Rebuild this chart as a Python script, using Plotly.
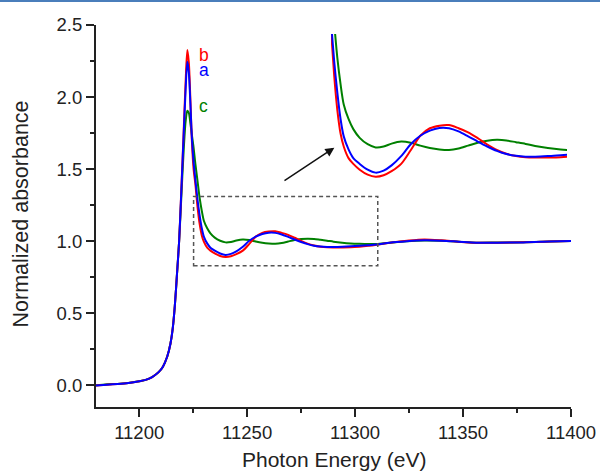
import plotly.graph_objects as go

# Photon energy grid (eV)
energy = [11180, 11185, 11190, 11195, 11200, 11203, 11206, 11209, 11211, 11213,
          11214.5, 11215.5, 11216.5, 11217.5, 11218.5, 11219.5, 11220.5, 11221.5,
          11222.3, 11223, 11223.7, 11224.4, 11225.2, 11226, 11227, 11228, 11229,
          11230, 11231.5, 11233, 11235, 11237.5, 11240, 11242.5, 11245, 11248,
          11251, 11254, 11257, 11260, 11263, 11266, 11269, 11272, 11275, 11278,
          11281, 11284, 11287, 11290, 11294, 11298, 11302, 11306, 11310, 11316,
          11324, 11332, 11340, 11348, 11356, 11366, 11378, 11390, 11400]

# Normalized absorbance of samples a, b and c
absorb_a = [0.0, 0.004, 0.009, 0.016, 0.028, 0.038, 0.058, 0.092, 0.13, 0.2,
            0.29, 0.39, 0.55, 0.77, 1.0, 1.34, 1.70, 2.05,
            2.245, 2.17, 1.96, 1.72, 1.55, 1.43, 1.29, 1.18, 1.09,
            1.03, 0.985, 0.955, 0.935, 0.915, 0.905, 0.912, 0.93, 0.962,
            1.003, 1.032, 1.05, 1.059, 1.058, 1.047, 1.03, 1.012, 0.995, 0.98,
            0.969, 0.963, 0.96, 0.96, 0.962, 0.965, 0.968, 0.972, 0.977, 0.99,
            1.0, 1.006, 1.004, 0.997, 0.99, 0.99, 0.992, 0.998, 1.002]

absorb_b = [0.0, 0.004, 0.009, 0.016, 0.028, 0.038, 0.058, 0.092, 0.13, 0.2,
            0.29, 0.39, 0.55, 0.77, 1.0, 1.35, 1.72, 2.1,
            2.326, 2.24, 1.99, 1.70, 1.50, 1.40, 1.24, 1.12, 1.04,
            0.995, 0.955, 0.935, 0.915, 0.898, 0.891, 0.896, 0.91, 0.935,
            0.982, 1.032, 1.058, 1.067, 1.069, 1.058, 1.044, 1.024, 1.002, 0.983,
            0.97, 0.962, 0.958, 0.957, 0.957, 0.958, 0.962, 0.968, 0.976, 0.99,
            1.003, 1.012, 1.006, 0.996, 0.989, 0.99, 0.993, 0.998, 1.002]

absorb_c = [0.0, 0.008, 0.01, 0.017, 0.028, 0.038, 0.058, 0.092, 0.13, 0.2,
            0.29, 0.39, 0.55, 0.77, 1.0, 1.3, 1.6, 1.83,
            1.905, 1.89, 1.82, 1.74, 1.65, 1.54, 1.42, 1.30, 1.21,
            1.14, 1.09, 1.055, 1.025, 1.003, 0.992, 0.995, 1.005, 1.012,
            1.008, 0.998, 0.99, 0.985, 0.983, 0.988, 0.998, 1.008, 1.015, 1.018,
            1.016, 1.01, 1.004, 0.997, 0.99, 0.985, 0.982, 0.98, 0.981, 0.99,
            1.0, 1.005, 1.003, 0.997, 0.99, 0.991, 0.993, 0.998, 1.002]

series = [("c", absorb_c, "#008000"), ("b", absorb_b, "#ff0000"), ("a", absorb_a, "#0000ff")]

FONT = "Liberation Sans, Arial, sans-serif"
AXIS_COLOR = "#222222"

fig = go.Figure()

# main spectra and the magnified copy in the upper-right corner
for name, vals, color in series:
    for xa, ya in (("x", "y"), ("x2", "y2")):
        fig.add_trace(go.Scatter(
            x=energy, y=vals, mode="lines", name=name, xaxis=xa, yaxis=ya,
            line=dict(color=color, width=2, shape="spline", smoothing=0.8),
            showlegend=False, hoverinfo="skip"))

fig.update_layout(
    width=600, height=472,
    margin=dict(l=96, r=29, t=25, b=65),
    paper_bgcolor="white", plot_bgcolor="white",
    font=dict(family=FONT, size=18, color=AXIS_COLOR),
    xaxis=dict(
        range=[11180, 11400], tick0=11200, dtick=50, tickformat="d", automargin=False,
        showline=True, linewidth=2, linecolor=AXIS_COLOR,
        ticks="outside", ticklen=8, tickwidth=1.5, tickcolor=AXIS_COLOR,
        minor=dict(ticks="outside", ticklen=4, tickwidth=1.5, dtick=25, tick0=11175, tickcolor=AXIS_COLOR),
        showgrid=False, zeroline=False, tickfont=dict(size=18.5),
    ),
    yaxis=dict(
        range=[-0.15, 2.5], tick0=0, dtick=0.5, tickformat=".1f", automargin=False,
        showline=True, linewidth=2, linecolor=AXIS_COLOR,
        ticks="outside", ticklen=8, tickwidth=1.5, tickcolor=AXIS_COLOR,
        minor=dict(ticks="outside", ticklen=4, tickwidth=1.5, dtick=0.25, tick0=0, tickcolor=AXIS_COLOR),
        showgrid=False, zeroline=False, tickfont=dict(size=18.5),
    ),
    xaxis2=dict(domain=[0.4947, 0.9916], range=[11226, 11300], anchor="y2",
                visible=False, showgrid=False, zeroline=False),
    yaxis2=dict(domain=[0.568, 0.9764], range=[0.845, 1.383], anchor="x2",
                visible=False, showgrid=False, zeroline=False),
)

# dashed box marking the magnified region
fig.add_shape(type="rect", xref="x", yref="y", x0=11225.2, x1=11310.5, y0=0.83, y1=1.31,
              line=dict(color="#555555", width=1.5, dash="4px,3px"))

# thin rule along the top edge of the page
fig.add_shape(type="line", xref="paper", yref="paper", x0=-0.21, x1=1.07, y0=1.0628, y1=1.0628,
              line=dict(color="#4a7ebb", width=2))

# arrow pointing to the magnified view
fig.add_annotation(x=11290.4, y=1.649, ax=11266.6, ay=1.413, xref="x", yref="y",
                   axref="x", ayref="y", showarrow=True, arrowhead=2, arrowsize=1.2,
                   arrowwidth=1.5, arrowcolor="#111111", text="")

# sample labels
for label, yv, color in (("b", 2.29, "#ff0000"), ("a", 2.185, "#0000ff"), ("c", 1.94, "#008000")):
    fig.add_annotation(x=11229.8, y=yv, xref="x", yref="y", text=label, showarrow=False,
                       font=dict(family=FONT, size=17.5, color=color), xanchor="center", yanchor="middle")

# axis titles
fig.add_annotation(x=0.5, y=0.0, xref="paper", yref="paper", yshift=-52, text="Photon Energy (eV)",
                   showarrow=False, font=dict(family=FONT, size=21, color=AXIS_COLOR),
                   xanchor="center", yanchor="middle")
fig.add_annotation(x=-0.157, y=0.505, xref="paper", yref="paper", text="Normalized absorbance",
                   textangle=-90, showarrow=False, font=dict(family=FONT, size=21.5, color=AXIS_COLOR),
                   xanchor="center", yanchor="middle")

fig.write_html("out.html")
